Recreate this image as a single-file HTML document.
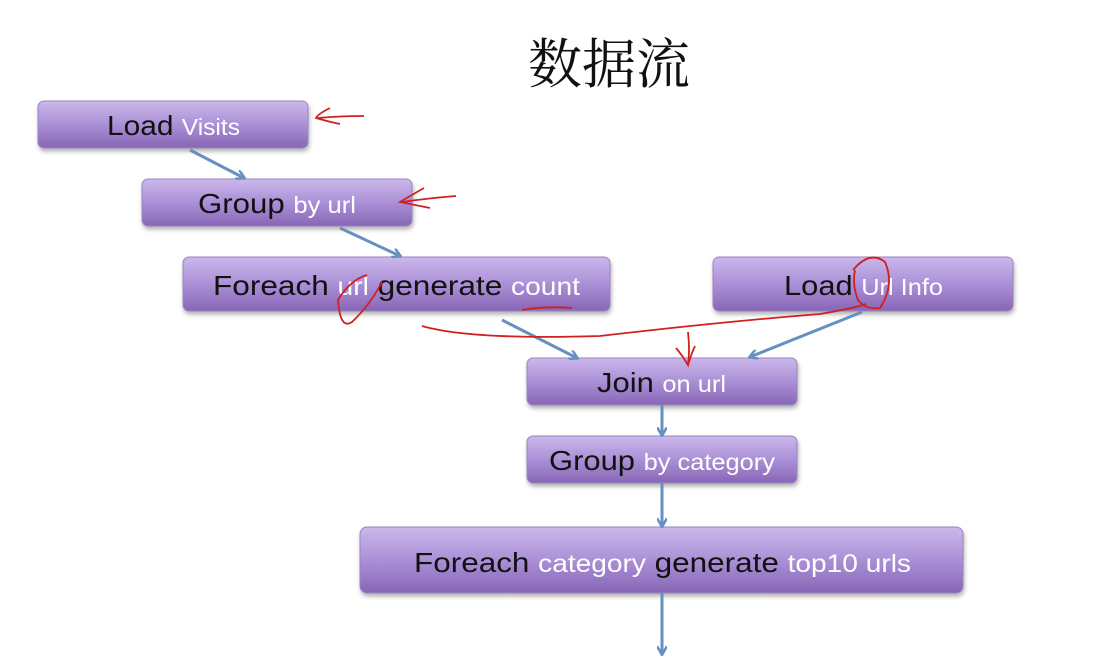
<!DOCTYPE html>
<html><head><meta charset="utf-8"><style>
body{margin:0;background:#fff;}
svg{display:block;}
.m{font-family:"Liberation Sans","Noto Sans CJK SC",sans-serif;}
</style></head><body>
<svg width="1110" height="662" viewBox="0 0 1110 662" class="m">
<defs>
<linearGradient id="g" x1="0" y1="0" x2="0" y2="1">
<stop offset="0" stop-color="#cbb8ec"/><stop offset="0.5" stop-color="#ab90d6"/><stop offset="1" stop-color="#8766b6"/>
</linearGradient>
<filter id="s" x="-5%" y="-20%" width="110%" height="150%"><feDropShadow dx="1" dy="3" stdDeviation="2" flood-color="#000" flood-opacity="0.3"/></filter>
<marker id="a" markerWidth="10" markerHeight="10" refX="8" refY="5" orient="auto" markerUnits="userSpaceOnUse"><path d="M0,0 L9,5 L0,10" fill="none" stroke="#6690c0" stroke-width="2.5"/></marker>
</defs>
<text x="609" y="83" font-size="54" text-anchor="middle" font-family="Noto Serif CJK SC, serif" fill="#111">数据流</text>
<g filter="url(#s)" fill="url(#g)" stroke="#9a86c0" stroke-width="1">
<rect x="38" y="101" width="270" height="47" rx="6"/>
<rect x="142" y="179" width="270" height="47" rx="6"/>
<rect x="183" y="257" width="427" height="54" rx="6"/>
<rect x="713" y="257" width="300" height="54" rx="6"/>
<rect x="527" y="358" width="270" height="47" rx="6"/>
<rect x="527" y="436" width="270" height="47" rx="6"/>
<rect x="360" y="527" width="603" height="66" rx="7"/>
</g>
<g stroke="#6690c0" stroke-width="3" fill="none" marker-end="url(#a)">
<line x1="190" y1="150" x2="244" y2="178"/>
<line x1="340" y1="228" x2="400" y2="256"/>
<line x1="502" y1="320" x2="577" y2="358"/>
<line x1="862" y1="312" x2="750" y2="357"/>
<line x1="662" y1="405" x2="662" y2="435"/>
<line x1="662" y1="483" x2="662" y2="526"/>
<line x1="662" y1="593" x2="662" y2="654"/>
</g>
<g font-size="28" fill="#111" lengthAdjust="spacingAndGlyphs">
<text x="107" y="135" textLength="133" lengthAdjust="spacingAndGlyphs">Load <tspan fill="#fff" font-size="23">Visits</tspan></text>
<text x="198" y="213" textLength="158" lengthAdjust="spacingAndGlyphs">Group <tspan fill="#fff" font-size="23">by url</tspan></text>
<text x="213" y="295" textLength="367" lengthAdjust="spacingAndGlyphs">Foreach <tspan fill="#fff" font-size="25">url</tspan> generate <tspan fill="#fff" font-size="25">count</tspan></text>
<text x="784" y="295" textLength="159" lengthAdjust="spacingAndGlyphs">Load <tspan fill="#fff" font-size="23">Url Info</tspan></text>
<text x="597" y="392" textLength="129" lengthAdjust="spacingAndGlyphs">Join <tspan fill="#fff" font-size="23">on url</tspan></text>
<text x="549" y="470" textLength="226" lengthAdjust="spacingAndGlyphs">Group <tspan fill="#fff" font-size="23">by category</tspan></text>
<text x="414" y="572" textLength="497" lengthAdjust="spacingAndGlyphs">Foreach <tspan fill="#fff" font-size="25">category</tspan> generate <tspan fill="#fff" font-size="25">top10 urls</tspan></text>
</g>
<g stroke="#d02020" stroke-width="1.8" fill="none">
<path d="M330,108 Q318,114 316,118 Q330,122 340,124 M318,118 Q340,116 364,116"/>
<path d="M424,188 Q410,196 400,202 Q420,206 430,208 M402,202 Q430,198 456,196"/>
<path d="M367,275 Q350,280 338,300 Q340,330 352,322 Q370,305 382,282"/>
<path d="M522,310 Q545,306 572,308"/>
<path d="M422,326 Q470,340 600,336 Q720,322 820,314 Q855,308 866,304"/>
<path d="M853,270 Q870,250 885,262 Q895,285 880,308 Q866,310 858,300 Q852,285 855,270"/>
<path d="M688,332 Q690,350 688,365 Q682,355 676,348 M688,365 Q692,352 695,346"/>
</g>
</svg>
</body></html>
